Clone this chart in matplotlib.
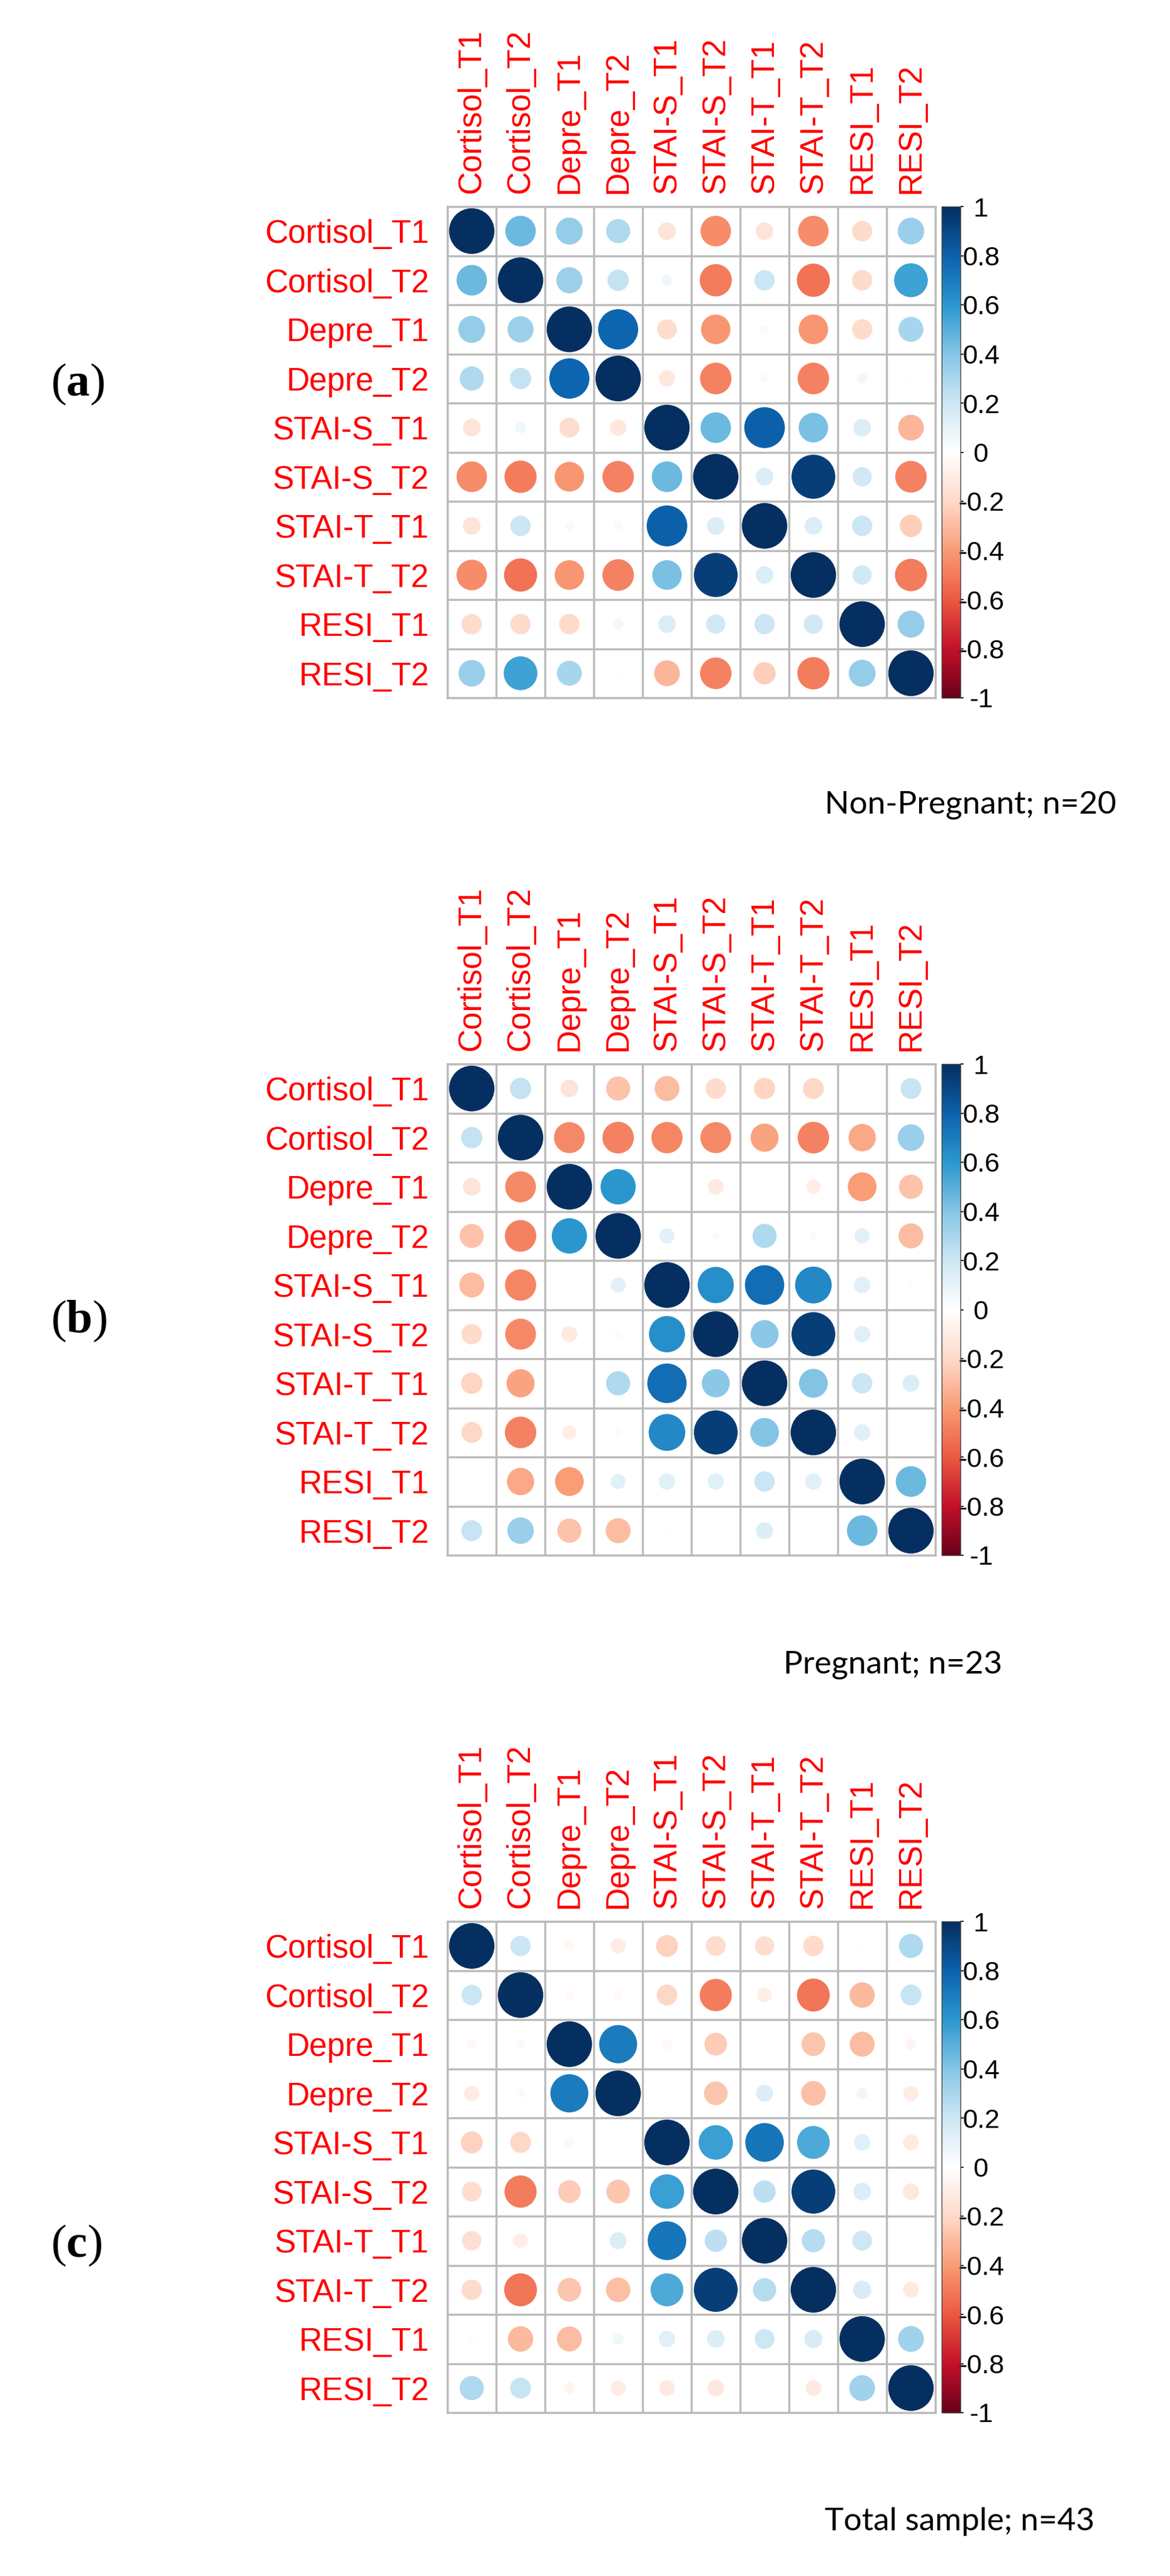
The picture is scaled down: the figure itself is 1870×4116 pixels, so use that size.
import matplotlib
matplotlib.use("Agg")
import matplotlib.pyplot as plt
from matplotlib.patches import Ellipse
from matplotlib.colors import LinearSegmentedColormap, Normalize
from matplotlib.cm import ScalarMappable
import numpy as np

# --- data ---
labels = ["Cortisol_T1", "Cortisol_T2", "Depre_T1", "Depre_T2", "STAI-S_T1",
          "STAI-S_T2", "STAI-T_T1", "STAI-T_T2", "RESI_T1", "RESI_T2"]

r_nonpreg = [
    [1.00, 0.45, 0.35, 0.28, -0.15, -0.45, -0.15, -0.45, -0.20, 0.34],
    [0.45, 1.00, 0.33, 0.22, 0.06, -0.50, 0.20, -0.53, -0.20, 0.55],
    [0.35, 0.33, 1.00, 0.78, -0.19, -0.42, -0.04, -0.42, -0.20, 0.30],
    [0.28, 0.22, 0.78, 1.00, -0.13, -0.48, 0.03, -0.48, 0.05, 0.01],
    [-0.15, 0.06, -0.19, -0.13, 1.00, 0.45, 0.80, 0.42, 0.15, -0.32],
    [-0.45, -0.50, -0.42, -0.48, 0.45, 1.00, 0.15, 0.93, 0.18, -0.48],
    [-0.15, 0.20, -0.04, 0.03, 0.80, 0.15, 1.00, 0.15, 0.20, -0.24],
    [-0.45, -0.53, -0.42, -0.48, 0.42, 0.93, 0.15, 1.00, 0.18, -0.50],
    [-0.20, -0.20, -0.20, 0.05, 0.15, 0.18, 0.20, 0.18, 1.00, 0.35],
    [0.34, 0.55, 0.30, 0.01, -0.32, -0.48, -0.24, -0.50, 0.35, 1.00],
]

r_preg = [
    [1.00, 0.22, -0.15, -0.28, -0.30, -0.20, -0.22, -0.21, 0.00, 0.21],
    [0.22, 1.00, -0.46, -0.48, -0.47, -0.46, -0.38, -0.48, -0.36, 0.34],
    [-0.15, -0.46, 1.00, 0.60, 0.00, -0.12, 0.00, -0.10, -0.40, -0.28],
    [-0.28, -0.48, 0.60, 1.00, 0.11, -0.03, 0.28, -0.03, 0.11, -0.30],
    [-0.30, -0.47, 0.00, 0.11, 1.00, 0.63, 0.75, 0.65, 0.13, -0.02],
    [-0.20, -0.46, -0.12, -0.03, 0.63, 1.00, 0.38, 0.93, 0.13, 0.00],
    [-0.22, -0.38, 0.00, 0.28, 0.75, 0.38, 1.00, 0.40, 0.20, 0.14],
    [-0.21, -0.48, -0.10, -0.03, 0.65, 0.93, 0.40, 1.00, 0.13, 0.00],
    [0.00, -0.36, -0.40, 0.11, 0.13, 0.13, 0.20, 0.13, 1.00, 0.45],
    [0.21, 0.34, -0.28, -0.30, -0.02, 0.00, 0.14, 0.00, 0.45, 1.00],
]

r_total = [
    [1.00, 0.20, -0.05, -0.11, -0.23, -0.19, -0.18, -0.20, -0.02, 0.28],
    [0.20, 1.00, -0.04, -0.04, -0.21, -0.50, -0.10, -0.52, -0.31, 0.21],
    [-0.05, -0.04, 1.00, 0.70, -0.05, -0.25, -0.01, -0.27, -0.30, -0.06],
    [-0.11, -0.04, 0.70, 1.00, 0.00, -0.27, 0.14, -0.29, 0.06, -0.11],
    [-0.23, -0.21, -0.05, 0.00, 1.00, 0.57, 0.72, 0.52, 0.13, -0.12],
    [-0.19, -0.50, -0.25, -0.27, 0.57, 1.00, 0.24, 0.93, 0.15, -0.13],
    [-0.18, -0.10, -0.01, 0.14, 0.72, 0.24, 1.00, 0.26, 0.19, 0.00],
    [-0.20, -0.52, -0.27, -0.29, 0.52, 0.93, 0.26, 1.00, 0.16, -0.12],
    [-0.02, -0.31, -0.30, 0.06, 0.13, 0.15, 0.19, 0.16, 1.00, 0.32],
    [0.28, 0.21, -0.06, -0.11, -0.12, -0.13, 0.00, -0.12, 0.32, 1.00],
]

panel_tags = ["a", "b", "c"]
panel_notes = ["Non-Pregnant; n=20", "Pregnant; n=23", "Total sample; n=43"]
cbar_ticks = [1, 0.8, 0.6, 0.4, 0.2, 0, -0.2, -0.4, -0.6, -0.8, -1]
cbar_text = ["1", "0.8", "0.6", "0.4", "0.2", "0", "-0.2", "-0.4", "-0.6", "-0.8", "-1"]

# RdBu palette as it looks in the (rather saturated) figure
rdbu = ["#6A0018", "#C4122A", "#EC5A42", "#F99C76", "#FEDACA", "#FFFFFF",
        "#CDE7F4", "#86C6E6", "#2C98CF", "#0C62AD", "#052F60"]
cmap = LinearSegmentedColormap.from_list("corr_rdbu", rdbu, N=200)
norm = Normalize(-1, 1)

W, H = 1870, 4116
plt.rcParams["font.family"] = ["Liberation Sans", "DejaVu Sans"]
plt.rcParams["mathtext.fontset"] = "custom"
plt.rcParams["mathtext.rm"] = "Liberation Serif"
plt.rcParams["mathtext.bf"] = "Liberation Serif:bold"

fig = plt.figure(figsize=(W / 100, H / 100), dpi=100)


def box(x0, y0, x1, y1):
    # pixel box (top-left origin) -> figure fraction
    return [x0 / W, 1 - y1 / H, (x1 - x0) / W, (y1 - y0) / H]


grid_col = "#BBBBBB"
mat_x0, mat_x1 = 715, 1495
cb_x0, cb_x1 = 1505, 1535
mat_h = 785
tops = [330, 1700, 3070]
tag_y = [614, 2111, 3588]
note_xy = [(1318, 1286), (1252, 2660), (1318, 4029)]


def draw_panel(mat, top, tag, ty, note, nxy):
    mat = np.asarray(mat)
    n = len(labels)
    ax = fig.add_axes(box(mat_x0, top, mat_x1, top + mat_h))
    ax.set_xlim(0, n)
    ax.set_ylim(n, 0)
    for i in range(n):
        for j in range(n):
            r = mat[i, j]
            d = 0.93 * np.sqrt(abs(r))
            if d <= 0:
                continue
            ax.add_patch(Ellipse((j + 0.5, i + 0.5), d, d,
                                 facecolor=cmap(norm(r)), edgecolor="none"))
    for k in range(n + 1):
        ax.axhline(k, color=grid_col, lw=2.4, zorder=0)
        ax.axvline(k, color=grid_col, lw=2.4, zorder=0)
    for s in ax.spines.values():
        s.set_color(grid_col)
        s.set_linewidth(2.4)

    ax.set_xticks(np.arange(n) + 0.5)
    ax.set_yticks(np.arange(n) + 0.5)
    ax.set_xticklabels(labels, rotation=90, color="red", fontsize=37)
    ax.set_yticklabels(labels, color="red", fontsize=37)
    ax.xaxis.tick_top()
    ax.tick_params(axis="x", length=0, pad=15)
    ax.tick_params(axis="y", length=0, pad=21)

    cax = fig.add_axes(box(cb_x0, top, cb_x1, top + mat_h))
    cb = fig.colorbar(ScalarMappable(norm=norm, cmap=cmap), cax=cax, ticks=cbar_ticks)
    cb.ax.set_yticklabels(cbar_text)
    cb.ax.tick_params(length=3.6, width=1.2, pad=20, labelsize=31)
    for t in cb.ax.get_yticklabels():
        t.set_horizontalalignment("center")
    cb.outline.set_linewidth(1.0)
    cb.outline.set_edgecolor("#444444")

    fig.text(81 / W, 1 - ty / H, "(" + r"$\mathbf{" + tag + "}$" + ")",
             family="Liberation Serif", fontsize=54, ha="left", va="center")
    fig.text(nxy[0] / W, 1 - nxy[1] / H, note, family="Lato", fontsize=37,
             ha="left", va="center")


mats = [r_nonpreg, r_preg, r_total]
for k in range(3):
    draw_panel(mats[k], tops[k], panel_tags[k], tag_y[k], panel_notes[k], note_xy[k])

fig.savefig("out.png", dpi=100)
